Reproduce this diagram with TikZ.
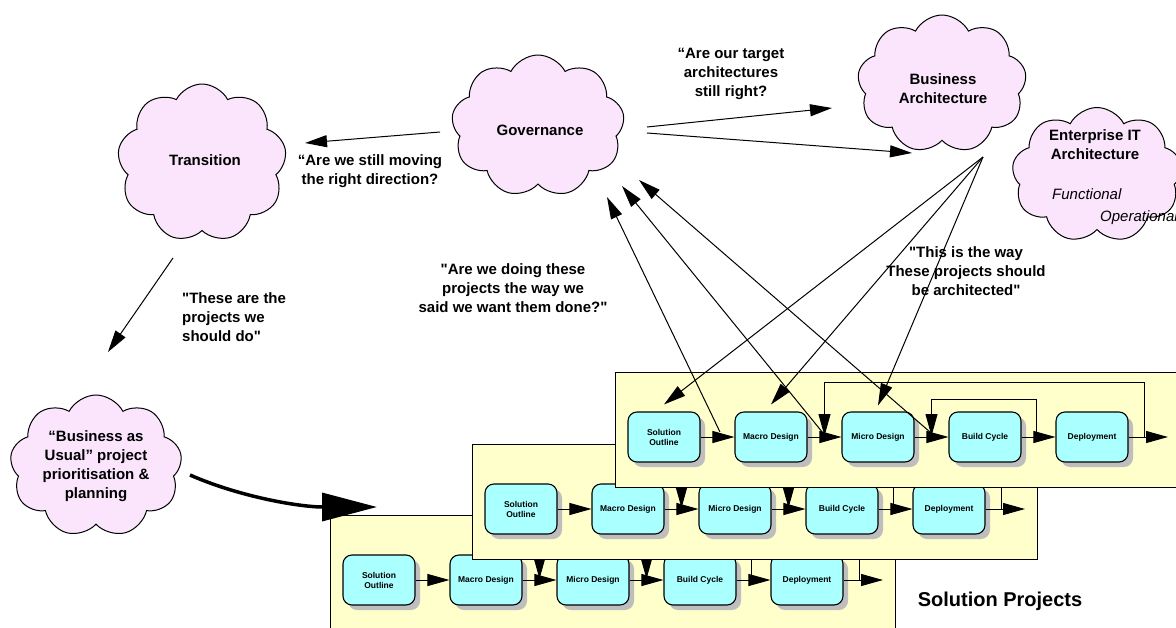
\documentclass[tikz,border=0pt]{standalone}
\usepackage{fontspec}
\setmainfont{Liberation Sans}
\usetikzlibrary{shapes.symbols,arrows.meta,shadows}

\definecolor{cloudpink}{RGB}{250,229,252}
\definecolor{boxcyan}{RGB}{170,255,255}
\definecolor{panelyellow}{RGB}{255,255,204}
\definecolor{shadowgrey}{RGB}{190,190,190}

\newcommand{\sq}{\textquotedbl}

\tikzset{
  puff/.style={cloud, cloud puffs=9, cloud puff arc=125, cloud ignores aspect,
    draw=black, line width=1pt, fill=cloudpink, inner sep=0pt},
  cloudtext/.style={font=\bfseries\fontsize{15}{19}\selectfont, align=center, inner sep=0pt},
  saying/.style={font=\bfseries\fontsize{15}{19}\selectfont, align=center, inner sep=0pt},
  stage/.style={draw=black, line width=1.1pt, fill=boxcyan, rounded corners=9pt,
    minimum width=72pt, minimum height=50pt, inner sep=1pt, align=center,
    font=\bfseries\fontsize{8.5}{10}\selectfont,
    drop shadow={shadow xshift=5pt, shadow yshift=-5pt, fill=shadowgrey, opacity=1}},
  panel/.style={draw=black, line width=1pt, fill=panelyellow, minimum width=565pt,
    minimum height=115pt, anchor=north west, inner sep=0pt},
  flow/.style={draw=black, line width=1pt, -{Triangle[length=22pt,width=12pt]}},
  bigflow/.style={draw=black, line width=3.5pt, -{Triangle[length=55pt,width=28pt]}},
}

% one project lane: #1 = name prefix, (#2,#3) = centre of the first stage
\newcommand{\solutionrow}[3]{%
  \node[panel] (#1-panel) at ({#2-49},{#3-65}) {};
  \node[stage] (#1-so)  at (#2,#3)        {Solution\\Outline};
  \node[stage] (#1-mac) at ({#2+107},#3)  {Macro Design};
  \node[stage] (#1-mic) at ({#2+214},#3)  {Micro Design};
  \node[stage] (#1-bld) at ({#2+321},#3)  {Build Cycle};
  \node[stage] (#1-dep) at ({#2+428},#3)  {Deployment};
  \coordinate (#1-out) at ({#2+504},#3);
  \coordinate (#1-oa)  at ({#2+480},#3);
  \coordinate (#1-ob)  at ({#2+160.5},{#3-1});
  \coordinate (#1-ia)  at ({#2+372},#3);
  \coordinate (#1-ib)  at ({#2+267.5},{#3-1});
  \draw[flow] (#1-so) -- (#1-mac);
  \draw[flow] (#1-mac) -- (#1-mic);
  \draw[flow] (#1-mic) -- (#1-bld);
  \draw[flow] (#1-bld) -- (#1-dep);
  \draw[flow] (#1-dep) -- (#1-out);
  \draw[flow] (#1-oa) -- ++(0,-55) -| (#1-ob);
  \draw[flow] (#1-ia) -- ++(0,-38) -| (#1-ib);
}

\begin{document}
\begin{tikzpicture}[x=1pt,y=-1pt]
\useasboundingbox (0,0) rectangle (1176,627);
\fill[white] (0,0) rectangle (1176,627);
\clip (0,0) rectangle (1176,627);

% clouds
\node[puff, minimum width=169pt, minimum height=158pt] (transition) at (202,163) {};
\node[cloudtext] (transition-text) at (205,160) {Transition};
\node[puff, minimum width=173pt, minimum height=142pt] (governance) at (538,126) {};
\node[cloudtext] (governance-text) at (540,130) {Governance};
\node[puff, minimum width=169pt, minimum height=138pt] (business) at (942,84) {};
\node[cloudtext] (business-text) at (943,89) {Business\\Architecture};
\node[puff, minimum width=170pt, minimum height=135pt] (enterprise) at (1097,175) {};
\node[cloudtext] (enterprise-text) at (1095,145) {Enterprise IT\\Architecture};
\node[font=\itshape\fontsize{15}{19}\selectfont, anchor=west, inner sep=0pt] (functional) at (1052,194) {Functional};
\node[font=\itshape\fontsize{15}{19}\selectfont, anchor=west, inner sep=0pt] (operational) at (1100,218) {Operational};
\node[puff, minimum width=172pt, minimum height=142pt] (bau) at (96,466) {};
\node[cloudtext] (bau-text) at (96,466) {“Business as\\Usual” project\\prioritisation \&\\planning};

% project lanes, back to front
\solutionrow{r3}{379}{580}
\solutionrow{r2}{521}{509}
\solutionrow{r1}{664}{437}

\node[font=\bfseries\fontsize{20}{24}\selectfont, inner sep=0pt] (sol-proj) at (1000,601) {Solution Projects};

% questions and statements
\node[saying] (q-move) at (370,171) {“Are we still moving\\the right direction?};
\node[saying] (q-target) at (731,74) {“Are our target\\architectures\\still right?};
\node[saying, align=left, anchor=west] (q-do) at (182,317) {\sq These are the\\projects we\\should do\sq};
\node[saying] (q-doing) at (513,288) {\sq Are we doing these\\projects the way we\\said we want them done?\sq};
\node[saying] (q-way) at (966,271) {\sq This is the way\\These projects should\\be architected\sq};

% connector end points
\coordinate (gov-w) at (440,132);
\coordinate (tr-e) at (305,143);
\coordinate (gov-e1) at (647,127);
\coordinate (ba-w) at (832,108);
\coordinate (gov-e2) at (647,133);
\coordinate (ea-w) at (912,153);
\coordinate (tr-s) at (173,258);
\coordinate (bau-n) at (108,352);
\coordinate (ba-s) at (983,157);
\coordinate (gov-s1) at (607,197);
\coordinate (gov-s2) at (622,186);
\coordinate (gov-s3) at (639,180);
\coordinate (r1-q1) at (720,432);
\coordinate (r1-q2) at (823,433);
\coordinate (r1-q3) at (930,432);
\coordinate (bau-e) at (190,475);
\coordinate (r3-in) at (377,507);

\draw[flow] (gov-w) -- (tr-e);
\draw[flow] (gov-e1) -- (ba-w);
\draw[flow] (gov-e2) -- (ea-w);
\draw[flow] (tr-s) -- (bau-n);
\draw[flow] (ba-s) -- ([yshift=7pt]r1-so.north);
\draw[flow] (ba-s) -- ([yshift=7pt]r1-mac.north);
\draw[flow] (ba-s) -- ([yshift=6pt]r1-mic.north);
\draw[flow] (r1-q1) -- (gov-s1);
\draw[flow] (r1-q2) -- (gov-s2);
\draw[flow] (r1-q3) -- (gov-s3);
\draw[bigflow] (bau-e) .. controls (240,497) and (300,507) .. (r3-in);
\end{tikzpicture}
\end{document}
